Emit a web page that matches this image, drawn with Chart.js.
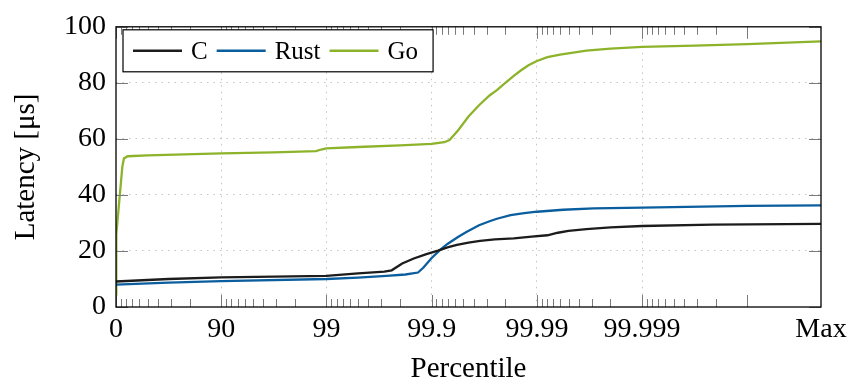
<!DOCTYPE html>
<html lang="en">
<head>
<meta charset="UTF-8">
<title>Latency percentiles</title>
<script src="https://cdn.jsdelivr.net/npm/chart.js"></script>
<style>
  html, body { margin: 0; padding: 0; background: #fff; }
  #wrap { width: 854px; height: 385px; }
</style>
</head>
<body>
<div id="wrap"><canvas id="latencyChart" width="854" height="385"></canvas></div>
<script>
// x is measured in "nines": 0 -> 0th, 1 -> 90th, 2 -> 99th, 3 -> 99.9th ... percentile
const tickNines = [0, 1, 2, 3, 4, 5, 6.7];
const tickLabels = ['0', '90', '99', '99.9', '99.99', '99.999', 'Max'];
const yTicks = [0, 20, 40, 60, 80, 100];

const cNines = [0, 0.5, 1, 2, 2.3, 2.55, 2.62, 2.72, 2.83, 2.95, 3.06, 3.15, 3.24, 3.35, 3.46, 3.6, 3.78, 3.95, 4.1, 4.2, 4.3, 4.47, 4.7, 5.0, 5.67, 6.7];
const cLatency = [9.1, 10.0, 10.6, 11.1, 12.0, 12.6, 13.1, 15.5, 17.3, 18.9, 20.1, 21.3, 22.2, 23.0, 23.6, 24.1, 24.5, 25.1, 25.6, 26.5, 27.2, 27.8, 28.4, 28.9, 29.4, 29.7];

const rustNines = [0, 0.5, 1, 2, 2.3, 2.57, 2.75, 2.87, 2.92, 3.0, 3.08, 3.15, 3.25, 3.33, 3.45, 3.55, 3.62, 3.75, 3.88, 4.0, 4.25, 4.54, 5.0, 6.0, 6.7];
const rustLatency = [8.0, 8.7, 9.2, 10.0, 10.5, 11.1, 11.6, 12.3, 14.0, 17.5, 20.4, 22.5, 25.0, 26.8, 29.2, 30.6, 31.5, 32.8, 33.5, 34.0, 34.7, 35.2, 35.5, 36.1, 36.3];

const goNines = [0, 0.003, 0.06, 0.075, 0.11, 0.3, 1, 1.5, 1.9, 1.95, 2.0, 2.3, 2.7, 3.0, 3.12, 3.17, 3.25, 3.35, 3.45, 3.55, 3.62, 3.7, 3.78, 3.85, 3.92, 4.0, 4.1, 4.22, 4.47, 4.7, 5.0, 5.5, 6.0, 6.7];
const goLatency = [4.5, 26, 50, 53, 53.8, 54.1, 54.8, 55.2, 55.6, 56.2, 56.6, 57.1, 57.7, 58.2, 58.8, 59.6, 63, 68, 72, 75.5, 77.4, 80, 82.5, 84.5, 86.3, 87.8, 89.2, 90.1, 91.5, 92.2, 92.8, 93.3, 93.8, 94.8];

const serif = '"Liberation Serif", "Times New Roman", serif';
const gridGray = '#c4c4c4';

function points(xs, ys) {
    return xs.map((x, i) => ({ x: x, y: ys[i] }));
}

// minor ticks at the 10..80th percentile of each decade of nines
const minorNines = [];
for (let k = 0; k < 6; k++) {
    for (let m = 1; m <= 8; m++) {
        minorNines.push(k - Math.log10(1 - m / 10));
    }
}
const majorNines = [0, 1, 2, 3, 4, 5, 6];

// pgfplots style frame with inward tick marks
const frameTicks = {
    id: 'frameTicks',
    afterDatasetsDraw(chart) {
        const { ctx, chartArea: a, scales: { x, y } } = chart;
        ctx.save();
        ctx.strokeStyle = '#7a7a7a';
        ctx.lineWidth = 1;
        ctx.beginPath();
        minorNines.forEach(v => {
            const px = Math.round(x.getPixelForValue(v)) + 0.5;
            ctx.moveTo(px, a.bottom); ctx.lineTo(px, a.bottom - 8);
            ctx.moveTo(px, a.top); ctx.lineTo(px, a.top + 8);
        });
        majorNines.forEach(v => {
            const px = Math.round(x.getPixelForValue(v)) + 0.5;
            ctx.moveTo(px, a.bottom); ctx.lineTo(px, a.bottom - 12);
            ctx.moveTo(px, a.top); ctx.lineTo(px, a.top + 12);
        });
        yTicks.forEach(v => {
            const py = Math.round(y.getPixelForValue(v)) + 0.5;
            ctx.moveTo(a.left, py); ctx.lineTo(a.left + 12, py);
            ctx.moveTo(a.right, py); ctx.lineTo(a.right - 12, py);
        });
        ctx.stroke();
        ctx.strokeStyle = '#000';
        ctx.lineWidth = 1.3;
        ctx.strokeRect(a.left, a.top, a.right - a.left, a.bottom - a.top);
        ctx.restore();
    }
};

// boxed legend inside the top-left corner of the plot
const boxLegend = {
    id: 'boxLegend',
    afterDraw(chart) {
        const { ctx, chartArea: a } = chart;
        const boxX = a.left + 7, boxY = a.top + 3, boxH = 42;
        const lineLen = 49, gap = 9;
        ctx.save();
        ctx.font = '25px ' + serif;
        let w = 10 + 6;
        chart.data.datasets.forEach(ds => {
            w += lineLen + gap + ctx.measureText(ds.label).width + gap;
        });
        ctx.fillStyle = '#fff';
        ctx.fillRect(boxX, boxY, w, boxH);
        ctx.strokeStyle = '#000';
        ctx.lineWidth = 1.2;
        ctx.strokeRect(boxX, boxY, w, boxH);
        let cx = boxX + 10;
        const cy = boxY + boxH / 2;
        chart.data.datasets.forEach(ds => {
            ctx.strokeStyle = ds.borderColor;
            ctx.lineWidth = 2.4;
            ctx.beginPath();
            ctx.moveTo(cx, cy); ctx.lineTo(cx + lineLen, cy);
            ctx.stroke();
            cx += lineLen + gap;
            ctx.fillStyle = '#000';
            ctx.textBaseline = 'alphabetic';
            ctx.fillText(ds.label, cx, cy + 8);
            cx += ctx.measureText(ds.label).width + gap;
        });
        ctx.restore();
    }
};

const lineStyle = { borderWidth: 2.3, pointRadius: 0, tension: 0, fill: false };

new Chart(document.getElementById('latencyChart'), {
    type: 'line',
    data: {
        datasets: [
            Object.assign({ label: 'C', data: points(cNines, cLatency), borderColor: '#1c1c1c' }, lineStyle),
            Object.assign({ label: 'Rust', data: points(rustNines, rustLatency), borderColor: '#0b5e9e' }, lineStyle),
            Object.assign({ label: 'Go', data: points(goNines, goLatency), borderColor: '#8db32b' }, lineStyle)
        ]
    },
    options: {
        responsive: false,
        animation: false,
        devicePixelRatio: 1,
        layout: { padding: { top: 20, right: 33, bottom: 0, left: 0 } },
        plugins: { legend: { display: false }, tooltip: { enabled: false } },
        scales: {
            x: {
                type: 'linear',
                min: 0,
                max: 6.7,
                afterBuildTicks: scale => { scale.ticks = tickNines.map(v => ({ value: v })); },
                afterFit: scale => { scale.height = 78; },
                ticks: {
                    autoSkip: false,
                    maxRotation: 0,
                    padding: 6,
                    color: '#000',
                    font: { family: serif, size: 28 },
                    callback: value => tickLabels[tickNines.indexOf(value)]
                },
                grid: {
                    drawTicks: false,
                    color: c => (c.tick && c.tick.value > 0 && c.tick.value < 6.5) ? gridGray : 'rgba(0,0,0,0)',
                    lineWidth: 1
                },
                border: { display: false, dash: [1.5, 5] },
                title: {
                    display: true,
                    text: 'Percentile',
                    color: '#000',
                    font: { family: serif, size: 29 },
                    padding: { top: 0, bottom: -2 }
                }
            },
            y: {
                min: 0,
                max: 100,
                afterBuildTicks: scale => { scale.ticks = yTicks.map(v => ({ value: v })); },
                afterFit: scale => { scale.width = 116; },
                ticks: {
                    padding: 10,
                    color: '#000',
                    font: { family: serif, size: 28 }
                },
                grid: {
                    drawTicks: false,
                    color: c => (c.tick && c.tick.value > 0 && c.tick.value < 100) ? gridGray : 'rgba(0,0,0,0)',
                    lineWidth: 1
                },
                border: { display: false, dash: [1.5, 5] },
                title: {
                    display: true,
                    text: 'Latency [μs]',
                    color: '#000',
                    font: { family: serif, size: 29 },
                    padding: { top: 9, bottom: 0 }
                }
            }
        }
    },
    plugins: [frameTicks, boxLegend]
});
</script>
</body>
</html>
